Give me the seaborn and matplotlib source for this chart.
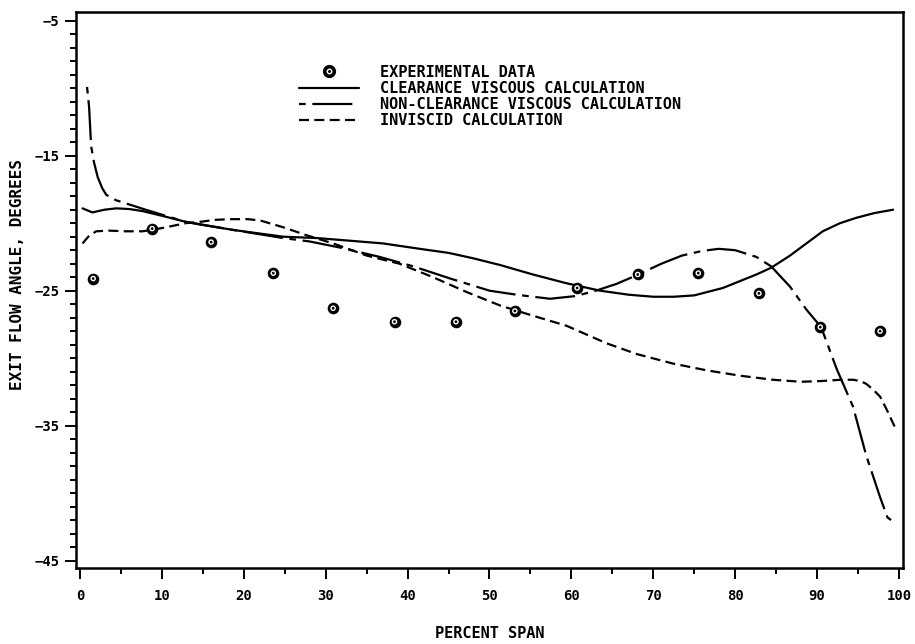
import numpy as np
import pandas as pd
import matplotlib
matplotlib.use("Agg")
import matplotlib.pyplot as plt
from matplotlib.lines import Line2D
from matplotlib.ticker import MultipleLocator
import seaborn as sns

# Experimental exit flow angles
span_exp = [1.6, 8.8, 16.0, 23.6, 30.9, 38.4, 45.9, 53.1, 60.7, 68.1, 75.5, 82.9, 90.4, 97.7]
angle_exp = [-24.1, -20.4, -21.4, -23.7, -26.3, -27.3, -27.3, -26.5, -24.8, -23.8, -23.7, -25.2, -27.7, -28.0]

# Clearance viscous calculation
span_clr = [0.3, 1.5, 3.0, 4.4, 6.0, 7.6, 10.0, 12.9, 14.7, 18.7, 24.8, 28.9, 33.0, 37.0,
            41.5, 45.0, 48.0, 51.3, 55.3, 59.4, 63.5, 67.0, 70.0, 72.5, 75.0, 78.5, 82.6,
            84.4, 86.7, 88.7, 90.7, 92.8, 94.8, 97.0, 99.3]
angle_clr = [-18.9, -19.2, -19.0, -18.9, -18.95, -19.1, -19.45, -19.9, -20.1, -20.5, -21.0,
             -21.1, -21.3, -21.5, -21.9, -22.2, -22.6, -23.1, -23.8, -24.45, -25.0, -25.3,
             -25.45, -25.45, -25.35, -24.8, -23.8, -23.3, -22.4, -21.5, -20.6, -20.0, -19.6,
             -19.25, -19.0]

# Non-clearance viscous calculation
span_ncl = [0.85, 1.1, 1.35, 1.7, 2.16, 2.7, 3.2, 4.4, 8.0, 12.9, 18.7, 24.8, 28.0, 31.7,
            36.6, 40.7, 45.2, 50.0, 53.3, 57.4, 60.5, 63.0, 65.5, 68.0, 71.0, 73.5, 76.0,
            78.0, 80.0, 82.6, 84.4, 86.7, 88.7, 90.5, 92.4, 94.4, 96.0, 97.7, 98.6, 99.5]
angle_ncl = [-9.9, -11.4, -14.3, -15.5, -16.6, -17.4, -17.9, -18.3, -19.0, -19.9, -20.5,
             -21.1, -21.35, -21.8, -22.5, -23.2, -24.1, -25.0, -25.3, -25.6, -25.4, -25.0,
             -24.5, -23.85, -23.0, -22.4, -22.05, -21.9, -22.0, -22.5, -23.2, -24.7, -26.4,
             -27.7, -30.8, -33.6, -37.2, -40.3, -41.8, -42.2]

# Inviscid calculation
span_inv = [0.3, 1.0, 1.95, 3.5, 5.5, 7.65, 10.1, 12.9, 14.65, 16.5, 18.6, 20.5, 22.0, 24.8,
            27.7, 30.9, 35.0, 39.0, 43.1, 47.2, 51.3, 55.0, 59.4, 64.3, 68.0, 72.4, 76.5,
            80.6, 84.6, 88.0, 90.4, 93.0, 94.4, 95.3, 96.0, 96.8, 97.7, 98.5, 99.5]
angle_inv = [-21.5, -21.0, -20.6, -20.55, -20.6, -20.6, -20.35, -20.0, -19.9, -19.75, -19.7,
             -19.7, -19.8, -20.3, -20.9, -21.5, -22.4, -23.0, -24.0, -25.1, -26.1, -26.8,
             -27.6, -28.9, -29.7, -30.4, -30.9, -31.3, -31.6, -31.75, -31.7, -31.6, -31.6,
             -31.7, -31.9, -32.3, -32.85, -33.8, -35.1]

x_ticks = [0, 10, 20, 30, 40, 50, 60, 70, 80, 90, 100]
y_ticks = [-5, -15, -25, -35, -45]

labels = ["EXPERIMENTAL DATA", "CLEARANCE VISCOUS CALCULATION",
          "NON-CLEARANCE VISCOUS CALCULATION", "INVISCID CALCULATION"]

sns.set_style("ticks")
ink = "black"
plt.rcParams["font.family"] = ["DejaVu Sans Mono", "DejaVu Sans"]
plt.rcParams["font.weight"] = "bold"
plt.rcParams["text.color"] = ink
plt.rcParams["axes.labelcolor"] = ink
plt.rcParams["xtick.color"] = ink
plt.rcParams["ytick.color"] = ink

fig = plt.figure(figsize=(9.15, 6.44), dpi=100)
ax = fig.add_axes([76 / 915, 76 / 644, 827 / 915, 556 / 644])

style_clr = "-"
style_ncl = (0, (3, 3, 18, 3))
style_inv = (0, (4.5, 2.4))
lw = 1.6

df_clr = pd.DataFrame({"span": span_clr, "angle": angle_clr})
df_ncl = pd.DataFrame({"span": span_ncl, "angle": angle_ncl})
df_inv = pd.DataFrame({"span": span_inv, "angle": angle_inv})
df_exp = pd.DataFrame({"span": span_exp, "angle": angle_exp})

sns.lineplot(data=df_clr, x="span", y="angle", ax=ax, color=ink, lw=lw,
             linestyle=style_clr, sort=False, estimator=None)
sns.lineplot(data=df_ncl, x="span", y="angle", ax=ax, color=ink, lw=lw,
             linestyle=style_ncl, sort=False, estimator=None)
sns.lineplot(data=df_inv, x="span", y="angle", ax=ax, color=ink, lw=lw,
             linestyle=style_inv, sort=False, estimator=None)
sns.scatterplot(data=df_exp, x="span", y="angle", ax=ax, color=ink, s=70,
                edgecolor=ink, linewidth=0, zorder=5)
sns.scatterplot(data=df_exp, x="span", y="angle", ax=ax, s=9, facecolor="none",
                edgecolor="white", linewidth=1.0, zorder=6)

ax.set_xlim(-0.5, 100.5)
ax.set_ylim(-45.55, -4.35)
ax.set_xticks(x_ticks)
ax.set_yticks(y_ticks)
ax.xaxis.set_minor_locator(MultipleLocator(5))
ax.yaxis.set_minor_locator(MultipleLocator(1))
ax.tick_params(axis="both", which="major", direction="out", length=8, width=1.4,
               labelsize=10, colors=ink)
ax.tick_params(axis="both", which="minor", direction="out", length=4, width=1.4,
               colors=ink)
ax.tick_params(axis="x", which="major", pad=7)
ax.tick_params(axis="y", which="major", pad=4)
for sp in ax.spines.values():
    sp.set_visible(True)
    sp.set_linewidth(1.8)
    sp.set_color(ink)

ax.set_xlabel("PERCENT SPAN", fontsize=11, fontweight="bold", color=ink)
ax.set_ylabel("EXIT FLOW ANGLE, DEGREES", fontsize=11.5, fontweight="bold", color=ink)
ax.xaxis.set_label_coords(0.5, -0.105)
ax.yaxis.set_label_coords(-0.062, 0.527)

# Legend
h_exp = (Line2D([], [], marker="o", ls="none", color=ink, markersize=8.5),
         Line2D([], [], marker="o", ls="none", markerfacecolor="none",
                markeredgecolor="white", markersize=3.2, markeredgewidth=1.0))
h_clr = Line2D([], [], color=ink, lw=lw, linestyle=style_clr)
h_ncl = Line2D([], [], color=ink, lw=lw, linestyle=style_ncl)
h_inv = Line2D([], [], color=ink, lw=lw, linestyle=style_inv)
leg = ax.legend([h_exp, h_clr, h_ncl, h_inv], labels, loc="upper left",
                bbox_to_anchor=(0.261, 0.919), frameon=False, borderpad=0,
                handlelength=3.9, handletextpad=1.4, labelspacing=0.08,
                prop={"family": "DejaVu Sans Mono", "weight": "bold", "size": 11})
for t in leg.get_texts():
    t.set_color(ink)

fig.savefig("out.png", dpi=100)
